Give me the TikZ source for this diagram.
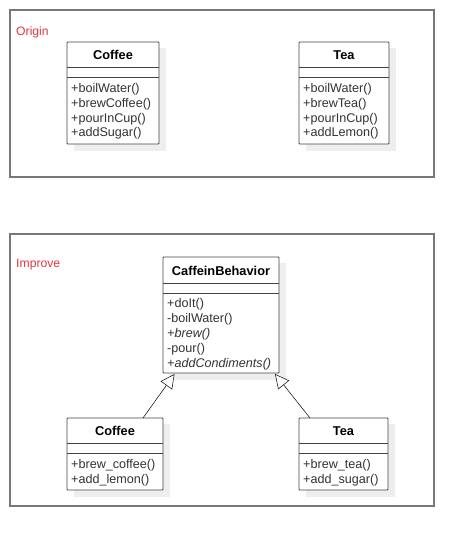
\documentclass[tikz,border=0pt]{standalone}
\usepackage{fontspec}
\setmainfont{Liberation Sans}
\usetikzlibrary{arrows.meta}
\definecolor{frame}{HTML}{777777}
\definecolor{boxline}{HTML}{444444}
\definecolor{txt}{HTML}{333333}
\definecolor{lbl}{HTML}{E0393E}
\definecolor{shade}{HTML}{EEEEEE}
\tikzset{
  px/.style={x=1pt,y=-1pt},
  frm/.style={draw=frame,line width=1.3pt},
  cls/.style={draw=boxline,line width=0.9pt,fill=white,rounded corners=0.8pt},
  shd/.style={fill=shade,draw=none},
  dv/.style={draw=boxline,line width=0.9pt},
  hdr/.style={font=\fontsize{12.8}{15}\selectfont\bfseries,text=black,inner sep=0pt,anchor=base},
  mth/.style={font=\fontsize{12.6}{15}\selectfont,text=txt,inner sep=0pt,anchor=base west},
  lab/.style={font=\fontsize{12.2}{14}\selectfont,text=lbl,inner sep=0pt,anchor=base west},
  gen/.style={draw=black,line width=0.5pt,-{Triangle[open,length=14pt,width=14pt,fill=white]}}
}
\begin{document}
\begin{tikzpicture}[px]
\useasboundingbox (0,0) rectangle (474,546);
\fill[white] (0,0) rectangle (474,546);
% frames
\draw[frm] (10,10) rectangle (434,177);
\draw[frm] (10,234) rectangle (434,506);
\node[lab] (origin) at (16,35.5) {Origin};
\node[lab] (improve) at (16,267.5) {Improve};
% ---- Origin Coffee
\fill[shd] (74,48) rectangle (166,151);
\draw[cls] (67,42) rectangle (159,144);
\node[hdr] (c1) at (113,59) {Coffee};
\draw[dv] (67,67) -- (159,67);
\draw[dv] (67,77) -- (159,77);
\node[mth] (c1a) at (71,92.5) {+boilWater()};
\node[mth] (c1b) at (71,107.2) {+brewCoffee()};
\node[mth] (c1c) at (71,122) {+pourInCup()};
\node[mth] (c1d) at (71,136.7) {+addSugar()};
% ---- Origin Tea
\fill[shd] (306,48) rectangle (396,151);
\draw[cls] (299,42) rectangle (389,144);
\node[hdr] (t1) at (344,59) {Tea};
\draw[dv] (299,67) -- (389,67);
\draw[dv] (299,77) -- (389,77);
\node[mth] (t1a) at (303,92.5) {+boilWater()};
\node[mth] (t1b) at (303,107.2) {+brewTea()};
\node[mth] (t1c) at (303,122) {+pourInCup()};
\node[mth] (t1d) at (303,136.7) {+addLemon()};
% ---- CaffeinBehavior
\fill[shd] (170,263) rectangle (286,380);
\draw[cls] (163,257) rectangle (279,373);
\node[hdr] (cb) at (221,275) {CaffeinBehavior};
\draw[dv] (163,283) -- (279,283);
\draw[dv] (163,293) -- (279,293);
\node[mth] (cba) at (167,307.3) {+doIt()};
\node[mth] (cbb) at (167,322.3) {-boilWater()};
\node[mth] (cbc) at (167,337.3) {\itshape +brew()};
\node[mth] (cbd) at (167,352.3) {-pour()};
\node[mth] (cbe) at (167,367.3) {\itshape +addCondiments()};
\coordinate (cbL) at (174.5,374);
\coordinate (cbR) at (275,374);
% ---- Improve Coffee
\fill[shd] (74,424) rectangle (170,497);
\draw[cls] (67,418) rectangle (163,490);
\node[hdr] (c2) at (115,435) {Coffee};
\draw[dv] (67,443) -- (163,443);
\draw[dv] (67,453) -- (163,453);
\node[mth] (c2a) at (71,468.3) {+brew\_coffee()};
\node[mth] (c2b) at (71,483.3) {+add\_lemon()};
\coordinate (c2top) at (143,418);
% ---- Improve Tea
\fill[shd] (306,424) rectangle (395,497);
\draw[cls] (299,418) rectangle (388,490);
\node[hdr] (t2) at (343.5,435) {Tea};
\draw[dv] (299,443) -- (388,443);
\draw[dv] (299,453) -- (388,453);
\node[mth] (t2a) at (303,468.3) {+brew\_tea()};
\node[mth] (t2b) at (303,483.3) {+add\_sugar()};
\coordinate (t2top) at (310,418);
% generalization arrows
\draw[gen] (c2top) -- (cbL);
\draw[gen] (t2top) -- (cbR);
\end{tikzpicture}
\end{document}
